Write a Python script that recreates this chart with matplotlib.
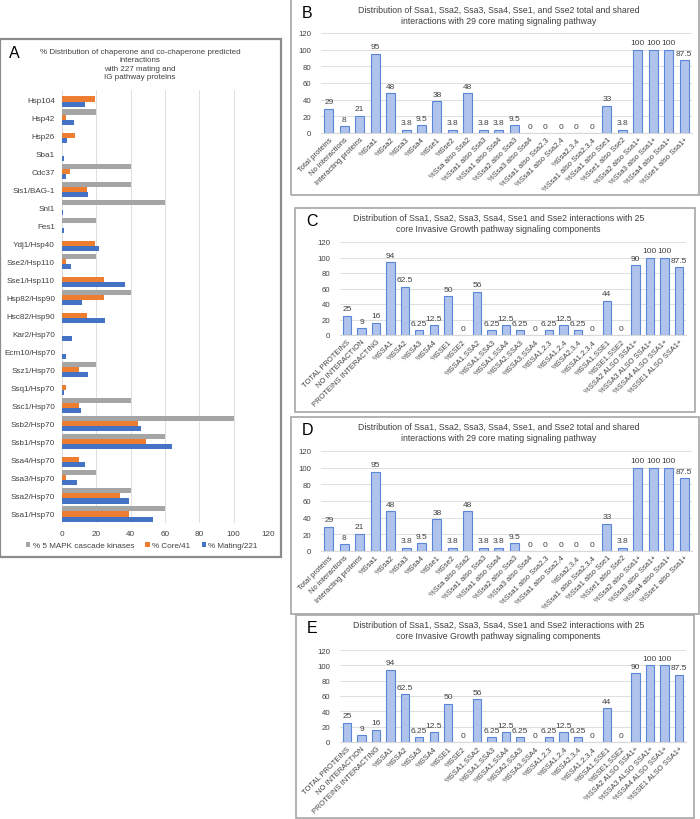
import matplotlib
matplotlib.use("Agg")
import matplotlib.pyplot as plt
from matplotlib.patches import Rectangle
import numpy as np

# ---- Panel A data -----------------------------------------------------------
chaperones = ["Hsp104", "Hsp42", "Hsp26", "Sba1", "Cdc37", "Sis1/BAG-1", "Snl1",
              "Fes1", "Ydj1/Hsp40", "Sse2/Hsp110", "Sse1/Hsp110", "Hsp82/Hsp90",
              "Hsc82/Hsp90", "Kar2/Hsp70", "Ecm10/Hsp70", "Ssz1/Hsp70", "Ssq1/Hsp70",
              "Ssc1/Hsp70", "Ssb2/Hsp70", "Ssb1/Hsp70", "Ssa4/Hsp70", "Ssa3/Hsp70",
              "Ssa2/Hsp70", "Ssa1/Hsp70"]
pct_mapk = [0, 20, 0, 0, 40, 40, 60, 20, 0, 20, 0, 40,
            0, 0, 0, 20, 0, 40, 100, 60, 0, 20, 40, 60]
pct_core = [19.5, 2.4, 7.3, 0, 4.9, 14.6, 0, 0, 19.5, 2.4, 24.4, 24.4,
            14.6, 0, 0, 9.8, 2.4, 9.8, 44, 49, 9.8, 2.4, 34, 39]
pct_mating = [13.5, 6.8, 3.2, 1.4, 2.3, 15.4, 0.5, 1.4, 21.7, 5.0, 36.7, 11.8,
              24.9, 5.9, 2.3, 14.9, 1.4, 10.9, 46, 64, 13.6, 9.0, 39, 53]

# ---- Panels B / D data (29 core mating proteins) ----------------------------
mating_cats = ["Total proteins", "No interactions", "Interacting proteins", "%Ssa1",
               "%Ssa2", "%Ssa3", "%Ssa4", "%Sse1", "%Sse2", "%Ssa also Ssa2",
               "%Ssa1 also Ssa3", "%Ssa1 also Ssa4", "%Ssa2 also Ssa3",
               "%Ssa3 also Ssa4", "%Ssa1 also Ssa2,3", "%Ssa1 also Ssa2,4",
               "%Ssa2,3,4", "%Ssa1 also Ssa2,3,4", "%Ssa1 also Sse1",
               "%Sse1 also Sse2", "%Ssa2 also Ssa1+", "%Ssa3 also Ssa1+",
               "%Ssa4 also Ssa1+", "%Sse1 also Ssa1+"]
mating_vals = [29, 8, 21, 95, 48, 3.8, 9.5, 38, 3.8, 48, 3.8, 3.8, 9.5,
               0, 0, 0, 0, 0, 33, 3.8, 100, 100, 100, 87.5]
mating_title = ("Distribution of Ssa1, Ssa2, Ssa3, Ssa4, Sse1, and Sse2 total and shared\n"
                "interactions with 29 core mating signaling pathway")

# ---- Panels C / E data (25 core invasive growth components) -----------------
ig_cats = ["TOTAL PROTEINS", "NO INTERACTION", "PROTEINS INTERACTING", "%SSA1",
           "%SSA2", "%SSA3", "%SSA4", "%SSE1", "%SSE2", "%SSA1,SSA2", "%SSA1,SSA3",
           "%SSA1,SSA4", "%SSA2,SSA3", "%SSA3,SSA4", "%SSA1,2,3", "%SSA1,2,4",
           "%SSA2,3,4", "%SSA1,2,3,4", "%SSA1,SSE1", "%SSE1,SSE2",
           "%SSA2 ALSO SSA1+", "%SSA3 ALSO SSA1+", "%SSA4 ALSO SSA1+",
           "%SSE1 ALSO SSA1+"]
ig_vals = [25, 9, 16, 94, 62.5, 6.25, 12.5, 50, 0, 56, 6.25, 12.5, 6.25, 0,
           6.25, 12.5, 6.25, 0, 44, 0, 90, 100, 100, 87.5]
ig_title = ("Distribution of Ssa1, Ssa2, Ssa3, Ssa4, Sse1 and Sse2 interactions with 25\n"
            "core Invasive Growth pathway signaling components")

TXT = "#404040"
GRID = "#D9D9D9"
W, H = 700, 820

plt.rcParams.update({"font.family": ["Liberation Sans", "DejaVu Sans"],
                     "text.color": TXT, "xtick.color": TXT, "ytick.color": TXT})

fig = plt.figure(figsize=(7, 8.2), dpi=100)


def px_axes(x0, y0, x1, y1):
    # pixel box (top-left origin) -> axes
    return fig.add_axes([x0 / W, 1 - y1 / H, (x1 - x0) / W, (y1 - y0) / H])


def px_box(x0, y0, x1, y1, color="#A6A6A6", lw=1.2):
    fig.patches.append(Rectangle((x0 / W, 1 - y1 / H), (x1 - x0) / W, (y1 - y0) / H,
                                 transform=fig.transFigure, fill=False,
                                 edgecolor=color, lw=lw))


def fmt(v):
    return f"{v:g}"


def column_panel(box, axbox, letter, title, title_y, cats, vals):
    px_box(*box)
    ax = px_axes(*axbox)
    x = np.arange(len(cats))
    bars = ax.bar(x, vals, width=0.58, color="#AFC3EC", edgecolor="#5B86D8", lw=0.8,
                  zorder=3)
    ax.bar_label(bars, labels=[fmt(v) for v in vals], padding=2.5, fontsize=6,
                 color=TXT)
    ax.set_xlim(-0.5, len(cats) - 0.5)
    ax.set_ylim(0, 120)
    ax.set_yticks(range(0, 121, 20))
    ax.set_xticks(x)
    ax.set_xticklabels(cats, rotation=45, ha="right", rotation_mode="anchor",
                       fontsize=5.4)
    ax.tick_params(axis="y", labelsize=5.6, length=0, pad=7)
    ax.tick_params(axis="x", length=0, pad=2)
    ax.grid(axis="y", color=GRID, lw=0.6, zorder=0)
    for s in ("top", "right", "left"):
        ax.spines[s].set_visible(False)
    ax.spines["bottom"].set_color(GRID)
    fig.text((box[0] + 11) / W, 1 - (title_y - 2) / H, letter, fontsize=11.5,
             color="black", va="center", ha="left")
    fig.text(0.5 * (box[0] + box[2]) / W + 0.005, 1 - title_y / H, title,
             fontsize=6.3, ha="center", va="center", linespacing=1.2)
    return ax


# ---- Panel A ----------------------------------------------------------------
px_box(0, 40, 281, 558, color="#8C8C8C", lw=1.6)
axA = px_axes(62, 91, 268, 524)
y = np.arange(len(chaperones))
bh = 0.28
axA.barh(y - bh, pct_mapk, height=bh, color="#A5A5A5", zorder=3,
         label="% 5 MAPK cascade kinases")
axA.barh(y, pct_core, height=bh, color="#ED7D31", zorder=3, label="% Core/41")
axA.barh(y + bh, pct_mating, height=bh, color="#4472C4", zorder=3,
         label="% Mating/221")
axA.set_ylim(len(chaperones) - 0.5, -0.5)
axA.set_xlim(0, 120)
axA.set_xticks(range(0, 121, 20))
axA.set_yticks(y)
axA.set_yticklabels(chaperones, fontsize=5.9)
axA.tick_params(axis="both", length=0, labelsize=5.9)
axA.tick_params(axis="y", pad=5)
axA.tick_params(axis="x", pad=5)
axA.grid(axis="x", color=GRID, lw=0.6, zorder=0)
for s in axA.spines.values():
    s.set_visible(False)
axA.legend(loc="upper left", bbox_to_anchor=(26 / W, 1 - 543 / H),
           bbox_transform=fig.transFigure, ncol=3, frameon=False, fontsize=5.9,
           handlelength=0.5, handleheight=0.5, handletextpad=0.3, columnspacing=1.4,
           borderaxespad=0, borderpad=0)
fig.text(9 / W, 1 - 53 / H, "A", fontsize=11.5, color="black", va="center")
fig.text(140 / W, 1 - 65 / H,
         "% Distribution of chaperone and co-chaperone predicted\ninteractions\n"
         "with 227 mating and\nIG pathway proteins",
         fontsize=5.8, ha="center", va="center", linespacing=1.3)

# ---- Panels B-E -------------------------------------------------------------
column_panel((291, -2, 699, 196), (321, 34, 692, 134), "B", mating_title, 16,
             mating_cats, mating_vals)
column_panel((295, 209, 695, 413), (340, 243, 686, 336), "C", ig_title, 224,
             ig_cats, ig_vals)
column_panel((291, 418, 699, 615), (321, 452, 692, 552), "D", mating_title, 433,
             mating_cats, mating_vals)
column_panel((296, 616, 694, 819), (340, 651, 686, 743), "E", ig_title, 631,
             ig_cats, ig_vals)

fig.savefig("out.png", dpi=100, facecolor="white")
